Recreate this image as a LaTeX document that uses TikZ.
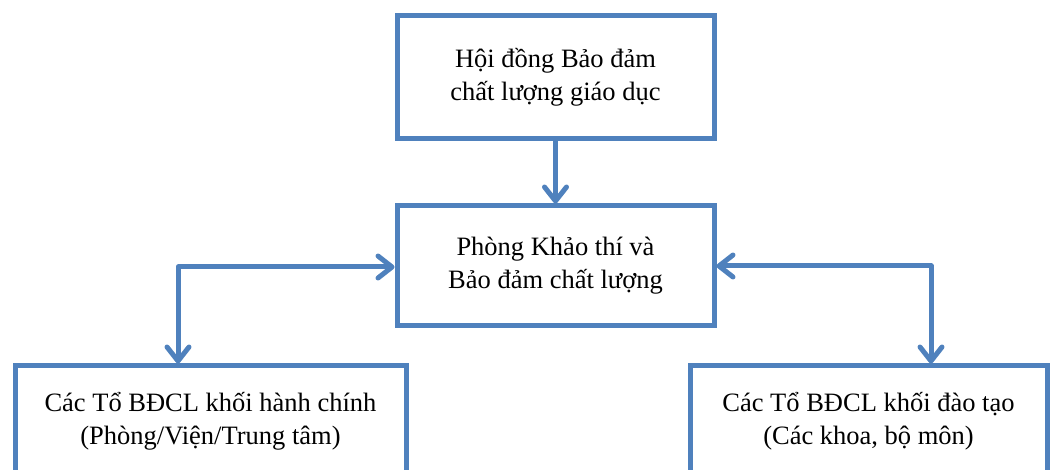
\documentclass[tikz,border=0pt]{standalone}
\usepackage{fontspec}
\setmainfont{Liberation Serif}
\usetikzlibrary{arrows.meta}
\definecolor{boxblue}{HTML}{4F81BD}
\begin{document}
\begin{tikzpicture}[x=1pt,y=-1pt,
  box/.style={draw=boxblue, line width=5pt, fill=white, align=center,
    font=\fontsize{26.5}{33}\selectfont, inner sep=0pt},
  conn/.style={draw=boxblue, line width=5pt, line cap=round, line join=round,
    arrows={-Straight Barb[length=14pt,width=22pt,line cap=round,line join=round]}},
  conn2/.style={draw=boxblue, line width=5pt, line cap=round, line join=round,
    arrows={Straight Barb[length=14pt,width=22pt,line cap=round,line join=round]-Straight Barb[length=14pt,width=22pt,line cap=round,line join=round]}}]
\useasboundingbox (0,0) rectangle (1050,470);
\clip (0,0) rectangle (1050,470);
\node[box, minimum width=317pt, minimum height=123pt] (top) at (555.5,77)
  {Hội đồng Bảo đảm\\chất lượng giáo dục};
\node[box, minimum width=317pt, minimum height=120pt] (mid) at (555.5,266)
  {Phòng Khảo thí và\\Bảo đảm chất lượng};
\node[box, minimum width=391pt, minimum height=110pt] (bl) at (210.5,421)
  {Các Tổ BĐCL khối hành chính\\(Phòng/Viện/Trung tâm)};
\node[box, minimum width=357pt, minimum height=110pt] (br) at (868.5,421)
  {Các Tổ BĐCL khối đào tạo\\(Các khoa, bộ môn)};
\coordinate (lc) at (178,267);
\coordinate (rc) at (931,266);
\draw[conn] (top.south) -- (mid.north);
\draw[conn2] (bl.north -| lc) -- (lc) -- (mid.west |- lc);
\draw[conn2] (mid.east |- rc) -- (rc) -- (br.north -| rc);
\end{tikzpicture}
\end{document}
